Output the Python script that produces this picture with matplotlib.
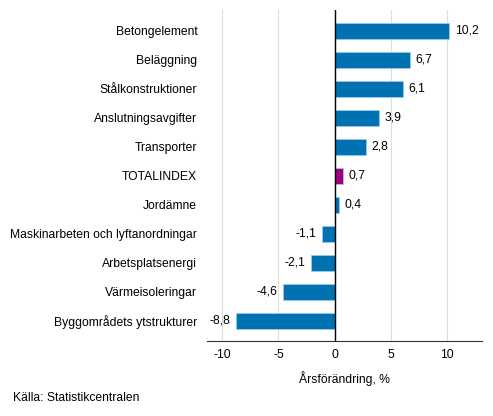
import matplotlib
matplotlib.use("Agg")
import matplotlib.pyplot as plt

categories = ["Betongelement", "Beläggning", "Stålkonstruktioner", "Anslutningsavgifter",
              "Transporter", "TOTALINDEX", "Jordämne", "Maskinarbeten och lyftanordningar",
              "Arbetsplatsenergi", "Värmeisoleringar", "Byggområdets ytstrukturer"]
values = [10.2, 6.7, 6.1, 3.9, 2.8, 0.7, 0.4, -1.1, -2.1, -4.6, -8.8]
xticks = [-10, -5, 0, 5, 10]
xlabel = "Årsförändring, %"
source = "Källa: Statistikcentralen"

plt.rcParams['font.family'] = ['Liberation Sans', 'DejaVu Sans']
fs = 8.7

fig = plt.figure(figsize=(4.93, 4.16), dpi=100)
ax = fig.add_axes([207/493, 1-341/416, (482-207)/493, (341-10)/416])

colors = ["#a0007f" if c == "TOTALINDEX" else "#0072b2" for c in categories]
ypos = list(range(len(categories)))
ax.barh(ypos, values, height=0.55, color=colors, edgecolor="#9ccbea", linewidth=0.6, zorder=3)

for y, v in zip(ypos, values):
    txt = f"{v:.1f}".replace(".", ",")
    if v >= 0:
        ax.annotate(txt, (v, y), xytext=(4, 0), textcoords="offset points",
                    ha="left", va="center", fontsize=fs)
    else:
        ax.annotate(txt, (v, y), xytext=(-4, 0), textcoords="offset points",
                    ha="right", va="center", fontsize=fs)

ax.set_xlim(-11.35, 13.1)
ax.set_ylim(len(categories) - 1 + 0.69, -0.72)
ax.set_yticks(ypos)
ax.set_yticklabels(categories, fontsize=fs)
ax.set_xticks(xticks)
ax.set_xticklabels([str(t) for t in xticks], fontsize=fs)
ax.tick_params(axis="both", length=0)
ax.tick_params(axis="y", pad=7)
ax.tick_params(axis="x", pad=6)
ax.grid(axis="x", color="#dddddd", linewidth=0.8, zorder=0)
ax.axvline(0, color="black", linewidth=1.0, zorder=4)
for s in ["left", "right", "top"]:
    ax.spines[s].set_visible(False)
ax.spines["bottom"].set_color("#333333")
ax.spines["bottom"].set_linewidth(0.8)
ax.set_xlabel(xlabel, fontsize=fs, labelpad=7)

fig.text(13/493, 1-398/416, source, fontsize=fs, ha="left", va="center")

fig.savefig("out.png", dpi=100)
